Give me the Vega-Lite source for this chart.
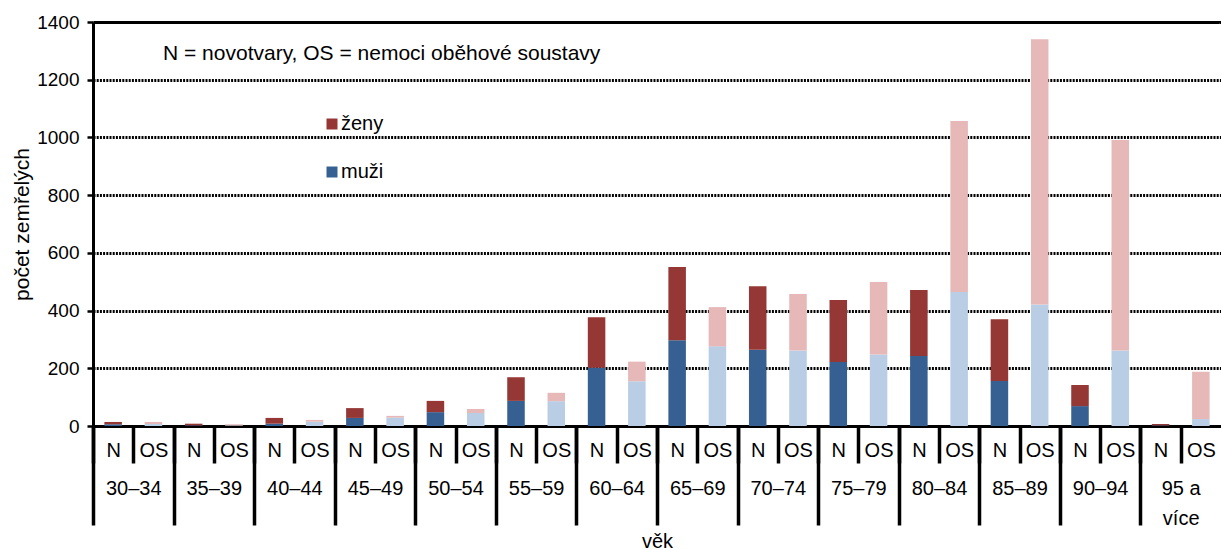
{
  "$schema": "https://vega.github.io/schema/vega-lite/v6.json",
  "autosize": {"type": "none"},
  "padding": {"left": 93, "top": 22, "right": 0, "bottom": 124},
  "width": 1128,
  "height": 404,
  "background": "white",
  "config": {
    "font": "Liberation Sans",
    "view": {"stroke": null}
  },
  "title": {
    "text": "N = novotvary, OS = nemoci oběhové soustavy",
    "anchor": "start",
    "frame": "group",
    "dx": 70,
    "offset": -68,
    "fontSize": 21,
    "fontWeight": "normal",
    "font": "Liberation Sans",
    "baseline": "alphabetic",
    "color": "black"
  },
  "data": {
    "values": [
      {"key": "30–34|N", "sex": "muži", "series": "muži N", "value": 6},
      {"key": "30–34|N", "sex": "ženy", "series": "ženy N", "value": 8},
      {"key": "30–34|OS", "sex": "muži", "series": "muži OS", "value": 7},
      {"key": "30–34|OS", "sex": "ženy", "series": "ženy OS", "value": 7},
      {"key": "35–39|N", "sex": "muži", "series": "muži N", "value": 2},
      {"key": "35–39|N", "sex": "ženy", "series": "ženy N", "value": 6},
      {"key": "35–39|OS", "sex": "muži", "series": "muži OS", "value": 2},
      {"key": "35–39|OS", "sex": "ženy", "series": "ženy OS", "value": 4},
      {"key": "40–44|N", "sex": "muži", "series": "muži N", "value": 8},
      {"key": "40–44|N", "sex": "ženy", "series": "ženy N", "value": 20},
      {"key": "40–44|OS", "sex": "muži", "series": "muži OS", "value": 15},
      {"key": "40–44|OS", "sex": "ženy", "series": "ženy OS", "value": 6},
      {"key": "45–49|N", "sex": "muži", "series": "muži N", "value": 28},
      {"key": "45–49|N", "sex": "ženy", "series": "ženy N", "value": 34},
      {"key": "45–49|OS", "sex": "muži", "series": "muži OS", "value": 29},
      {"key": "45–49|OS", "sex": "ženy", "series": "ženy OS", "value": 6},
      {"key": "50–54|N", "sex": "muži", "series": "muži N", "value": 48},
      {"key": "50–54|N", "sex": "ženy", "series": "ženy N", "value": 39},
      {"key": "50–54|OS", "sex": "muži", "series": "muži OS", "value": 45},
      {"key": "50–54|OS", "sex": "ženy", "series": "ženy OS", "value": 14},
      {"key": "55–59|N", "sex": "muži", "series": "muži N", "value": 87},
      {"key": "55–59|N", "sex": "ženy", "series": "ženy N", "value": 82},
      {"key": "55–59|OS", "sex": "muži", "series": "muži OS", "value": 86},
      {"key": "55–59|OS", "sex": "ženy", "series": "ženy OS", "value": 29},
      {"key": "60–64|N", "sex": "muži", "series": "muži N", "value": 202},
      {"key": "60–64|N", "sex": "ženy", "series": "ženy N", "value": 175},
      {"key": "60–64|OS", "sex": "muži", "series": "muži OS", "value": 155},
      {"key": "60–64|OS", "sex": "ženy", "series": "ženy OS", "value": 68},
      {"key": "65–69|N", "sex": "muži", "series": "muži N", "value": 297},
      {"key": "65–69|N", "sex": "ženy", "series": "ženy N", "value": 254},
      {"key": "65–69|OS", "sex": "muži", "series": "muži OS", "value": 276},
      {"key": "65–69|OS", "sex": "ženy", "series": "ženy OS", "value": 136},
      {"key": "70–74|N", "sex": "muži", "series": "muži N", "value": 264},
      {"key": "70–74|N", "sex": "ženy", "series": "ženy N", "value": 220},
      {"key": "70–74|OS", "sex": "muži", "series": "muži OS", "value": 262},
      {"key": "70–74|OS", "sex": "ženy", "series": "ženy OS", "value": 195},
      {"key": "75–79|N", "sex": "muži", "series": "muži N", "value": 222},
      {"key": "75–79|N", "sex": "ženy", "series": "ženy N", "value": 215},
      {"key": "75–79|OS", "sex": "muži", "series": "muži OS", "value": 248},
      {"key": "75–79|OS", "sex": "ženy", "series": "ženy OS", "value": 251},
      {"key": "80–84|N", "sex": "muži", "series": "muži N", "value": 243},
      {"key": "80–84|N", "sex": "ženy", "series": "ženy N", "value": 228},
      {"key": "80–84|OS", "sex": "muži", "series": "muži OS", "value": 464},
      {"key": "80–84|OS", "sex": "ženy", "series": "ženy OS", "value": 593},
      {"key": "85–89|N", "sex": "muži", "series": "muži N", "value": 156},
      {"key": "85–89|N", "sex": "ženy", "series": "ženy N", "value": 214},
      {"key": "85–89|OS", "sex": "muži", "series": "muži OS", "value": 421},
      {"key": "85–89|OS", "sex": "ženy", "series": "ženy OS", "value": 919},
      {"key": "90–94|N", "sex": "muži", "series": "muži N", "value": 69},
      {"key": "90–94|N", "sex": "ženy", "series": "ženy N", "value": 73},
      {"key": "90–94|OS", "sex": "muži", "series": "muži OS", "value": 262},
      {"key": "90–94|OS", "sex": "ženy", "series": "ženy OS", "value": 729},
      {"key": "95 a více|N", "sex": "muži", "series": "muži N", "value": 2},
      {"key": "95 a více|N", "sex": "ženy", "series": "ženy N", "value": 5},
      {"key": "95 a více|OS", "sex": "muži", "series": "muži OS", "value": 24},
      {"key": "95 a více|OS", "sex": "ženy", "series": "ženy OS", "value": 164}
    ]
  },
  "encoding": {
    "y": {
      "field": "value",
      "type": "quantitative",
      "stack": "zero",
      "scale": {"domain": [0, 1400], "nice": false},
      "axis": {
        "values": [0, 200, 400, 600, 800, 1000, 1200, 1400],
        "format": "d",
        "title": "počet zemřelých",
        "titleFont": "Liberation Sans",
        "titleFontSize": 21,
        "titleFontWeight": "normal",
        "titleColor": "black",
        "titlePadding": 4,
        "labelFont": "Liberation Sans",
        "labelFontSize": 19,
        "labelColor": "black",
        "labelPadding": 8,
        "tickSize": 6,
        "tickWidth": 2.5,
        "tickColor": "black",
        "domain": true,
        "domainColor": "black",
        "domainWidth": 3,
        "grid": true,
        "gridColor": "black",
        "gridWidth": 2.8,
        "gridDash": {"condition": {"test": "datum.value == 1400", "value": [1, 0]}, "value": [2, 1.2]}
      }
    }
  },
  "layer": [
    {
      "mark": {"type": "bar"},
      "encoding": {
        "x": {
          "field": "key",
          "type": "nominal",
          "sort": null,
          "scale": {"paddingInner": 0.565, "paddingOuter": 0.2825},
          "axis": {
            "orient": "bottom",
            "title": null,
            "grid": false,
            "bandPosition": 0,
            "tickOffset": -11.4,
            "labelOffset": 11.4,
            "tickSize": 37,
            "tickWidth": 3.5,
            "tickColor": "black",
            "domain": true,
            "domainColor": "black",
            "domainWidth": 3,
            "labelAngle": 0,
            "labelFont": "Liberation Sans",
            "labelFontSize": 20,
            "labelColor": "black",
            "labelPadding": -23,
            "labelBaseline": "top",
            "labelExpr": "split(datum.value, '|')[1]"
          }
        },
        "color": {
          "field": "series",
          "type": "nominal",
          "scale": {
            "domain": ["muži N", "ženy N", "muži OS", "ženy OS"],
            "range": ["#376092", "#953735", "#B9CDE5", "#E6B9B8"]
          },
          "legend": {
            "orient": "none",
            "legendX": 229,
            "legendY": 92,
            "values": ["ženy N", "muži N"],
            "title": null,
            "symbolType": "square",
            "symbolSize": 121,
            "symbolStrokeWidth": 0,
            "symbolOpacity": 1,
            "labelFont": "Liberation Sans",
            "labelFontSize": 20,
            "labelColor": "black",
            "labelOffset": -1,
            "rowPadding": 28,
            "padding": 0,
            "labelExpr": "split(datum.label, ' ')[0]"
          }
        },
        "order": {"field": "sex", "sort": "ascending"}
      }
    },
    {
      "mark": {"type": "bar", "opacity": 0},
      "encoding": {
        "x": {
          "field": "key",
          "type": "nominal",
          "sort": null,
          "axis": {
            "orient": "bottom",
            "values": ["30–34|N", "35–39|N", "40–44|N", "45–49|N", "50–54|N", "55–59|N", "60–64|N", "65–69|N", "70–74|N", "75–79|N", "80–84|N", "85–89|N", "90–94|N", "95 a více|N"],
            "title": "věk",
            "titleFont": "Liberation Sans",
            "titleFontSize": 20,
            "titleFontWeight": "normal",
            "titleColor": "black",
            "titlePadding": 3,
            "grid": false,
            "domain": false,
            "bandPosition": 0,
            "tickOffset": -11.4,
            "labelOffset": 31.5,
            "tickSize": 99,
            "tickWidth": 3.5,
            "tickColor": "black",
            "labelAngle": 0,
            "labelFont": "Liberation Sans",
            "labelFontSize": 20,
            "labelColor": "black",
            "labelPadding": -47,
            "labelBaseline": "top",
            "labelLineHeight": 30,
            "labelExpr": "datum.value == '95 a více|N' ? ['95 a', 'více'] : split(datum.value, '|')[0]"
          }
        }
      }
    }
  ],
  "resolve": {"axis": {"x": "independent"}}
}
